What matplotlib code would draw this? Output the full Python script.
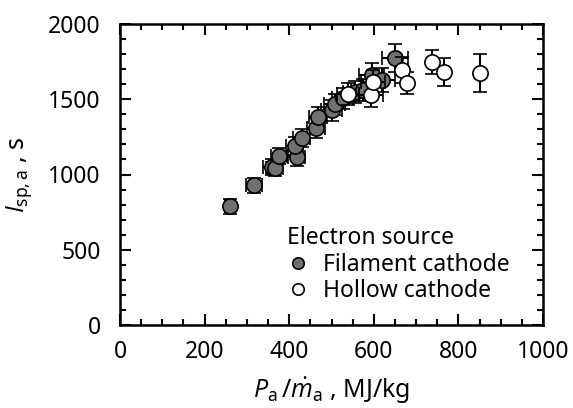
import matplotlib
matplotlib.use('Agg')
import numpy as np
from matplotlib import pyplot as plt
from matplotlib.ticker import MultipleLocator

# Filament cathode data (P_a/m_a in MJ/kg, Isp in s)
fil_x = [260, 317, 359, 366, 376, 418, 413, 430, 463, 468, 500, 508, 527, 555, 574, 595, 619, 650]
fil_y = [790, 928, 1050, 1043, 1123, 1116, 1189, 1242, 1309, 1382, 1428, 1468, 1508, 1548, 1561, 1661, 1628, 1774]
fil_xerr = [12, 18, 20, 20, 18, 20, 20, 20, 22, 22, 25, 25, 25, 28, 28, 30, 30, 30]
fil_yerr = [50, 52, 55, 55, 55, 60, 60, 60, 65, 65, 70, 70, 70, 75, 75, 80, 80, 90]

# Hollow cathode data
hol_x = [539, 593, 598, 666, 678, 737, 765, 850]
hol_y = [1535, 1528, 1615, 1694, 1608, 1748, 1681, 1674]
hol_xerr = [25, 28, 28, 0, 0, 0, 0, 0]
hol_yerr = [70, 80, 80, 85, 75, 80, 90, 125]

plt.rcParams['font.family'] = ['Noto Sans', 'DejaVu Sans']
plt.rcParams['mathtext.fontset'] = 'custom'
plt.rcParams['mathtext.rm'] = 'Noto Sans'
plt.rcParams['mathtext.it'] = 'Open Sans:italic'

fig = plt.figure(figsize=(5.73, 4.08), dpi=100)
ax = fig.add_axes([120/573, 1-325/408, 423/573, 301/408])

ax.errorbar(fil_x, fil_y, xerr=fil_xerr, yerr=fil_yerr, fmt='o', ms=11,
            mfc='#707070', mec='black', mew=1.2, ecolor='black', elinewidth=1.5,
            capsize=5, capthick=1.5, label='Filament cathode', zorder=3)
ax.errorbar(hol_x, hol_y, xerr=hol_xerr, yerr=hol_yerr, fmt='o', ms=11,
            mfc='white', mec='black', mew=1.2, ecolor='black', elinewidth=1.5,
            capsize=5, capthick=1.5, label='Hollow cathode', zorder=4)

ax.set_xlim(0, 1000)
ax.set_ylim(0, 2000)
ax.xaxis.set_major_locator(MultipleLocator(200))
ax.xaxis.set_minor_locator(MultipleLocator(50))
ax.yaxis.set_major_locator(MultipleLocator(500))
ax.yaxis.set_minor_locator(MultipleLocator(100))
ax.tick_params(which='both', direction='in', top=True, right=True, labelsize=16.5, width=1.5)
ax.tick_params(which='major', length=8)
ax.tick_params(which='minor', length=4)
ax.tick_params(axis='x', which='major', pad=11)
ax.tick_params(axis='y', which='major', pad=14)
for s in ax.spines.values():
    s.set_linewidth(1.8)

ax.set_xlabel(r'$P_{\rm a}\,/\dot{m}_{\rm a}$ , MJ/kg', fontsize=18, labelpad=8)
ax.set_ylabel(r'$I_{\rm sp,a}$ , s', fontsize=18, labelpad=10)

h, l = ax.get_legend_handles_labels()
h = [hh[0] for hh in h]
leg = ax.legend(h, l, title='Electron source', loc='lower right', frameon=False,
                fontsize=16.5, title_fontsize=16.5, markerscale=0.75,
                handlelength=1, handletextpad=0.6, labelspacing=0.1,
                borderaxespad=0.3, bbox_to_anchor=(0.96, 0.02))
leg._legend_box.align = 'left'

fig.savefig('out.png', dpi=100)
